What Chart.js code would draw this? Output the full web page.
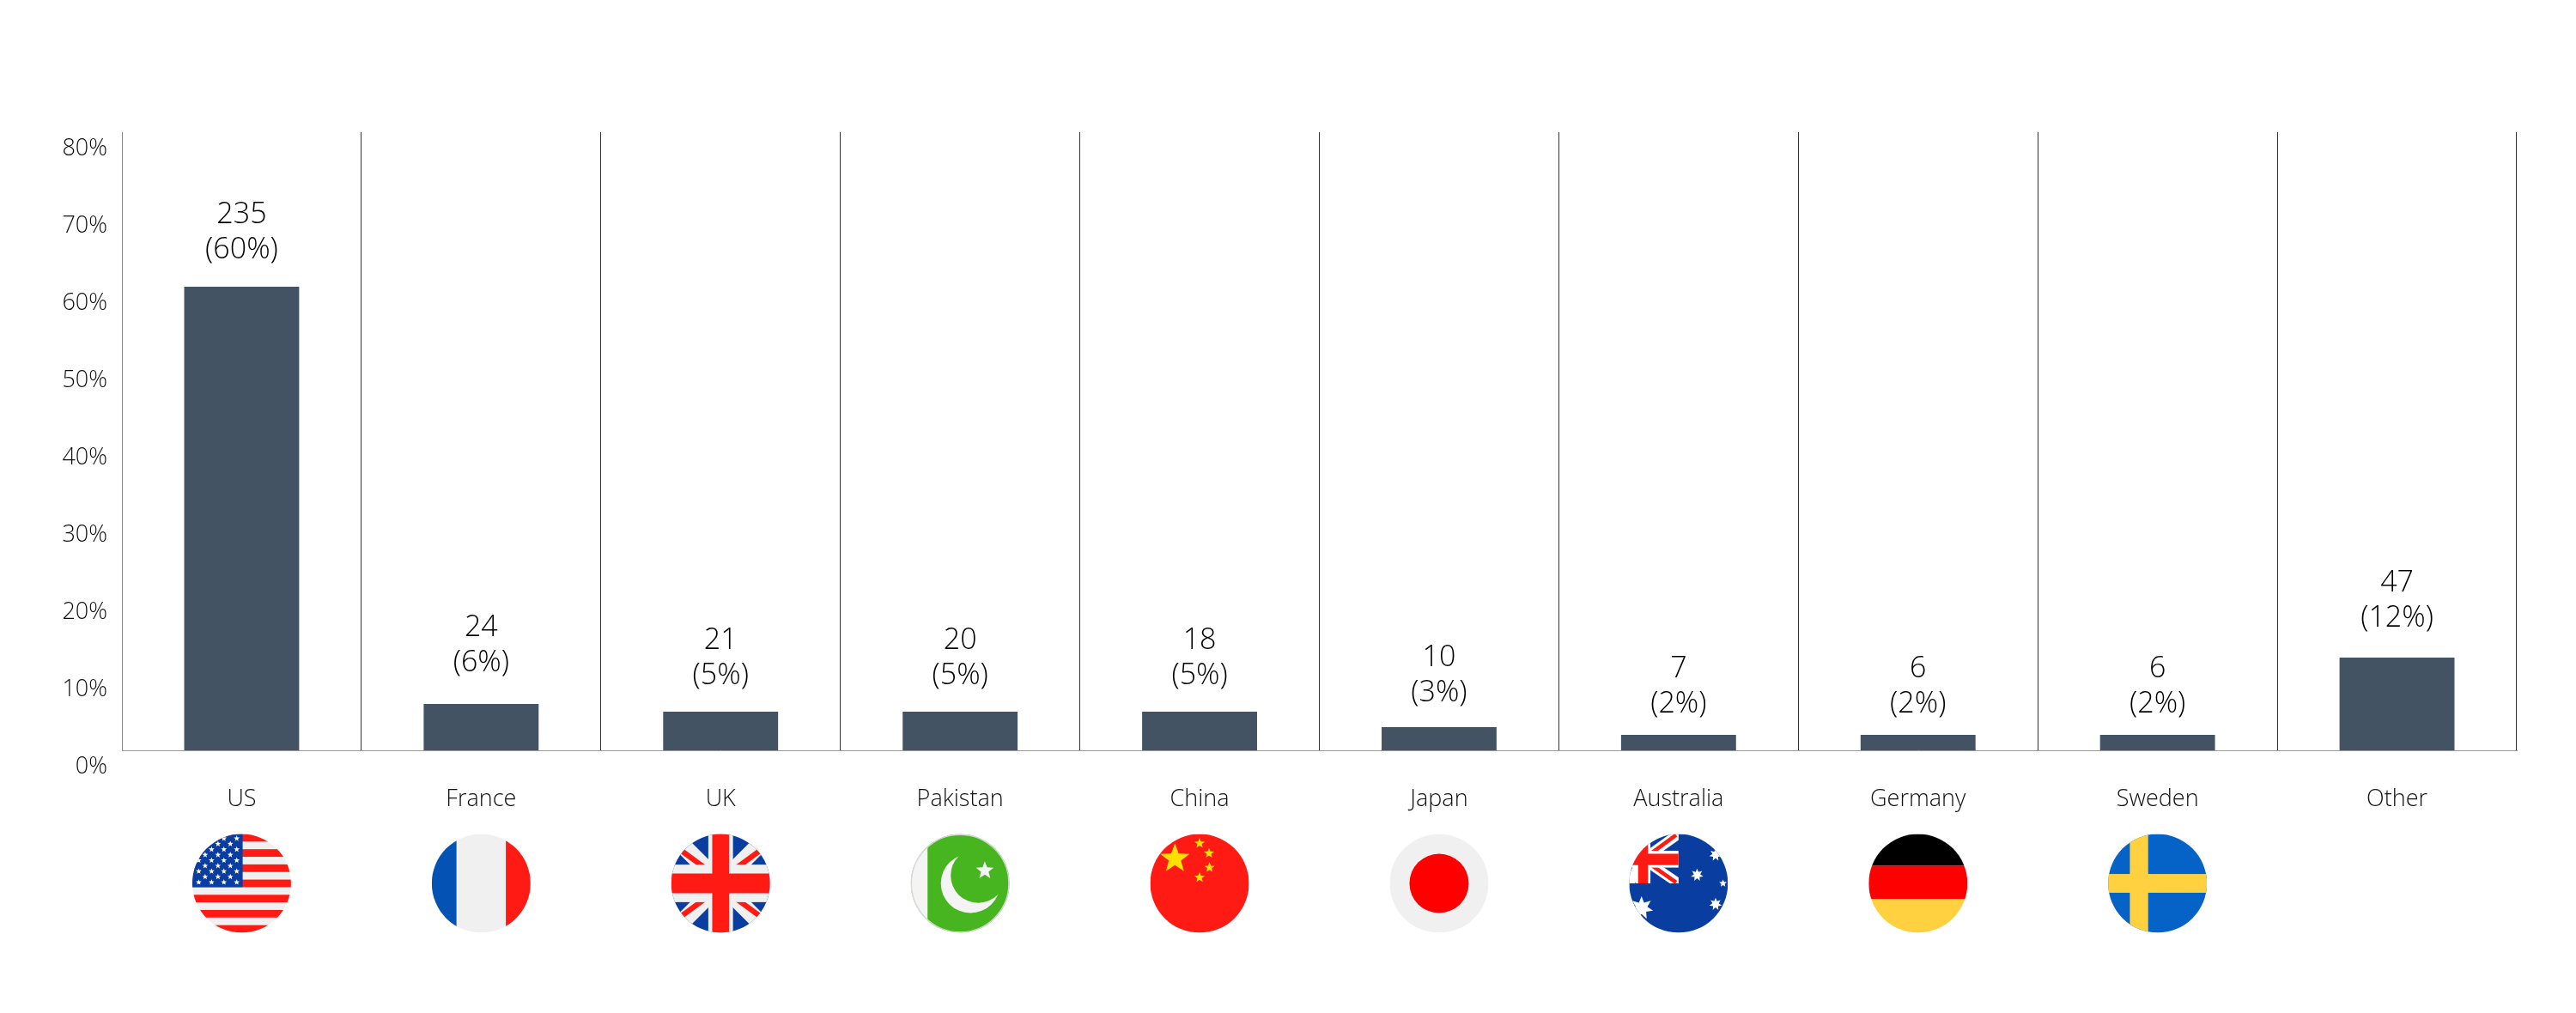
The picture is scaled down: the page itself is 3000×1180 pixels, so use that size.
<!DOCTYPE html>
<html>
<head>
<meta charset="utf-8">
<title>Chart</title>
<script src="https://cdn.jsdelivr.net/npm/chart.js@4"></script>
<style>
  html, body { margin: 0; padding: 0; background: #fff; }
  canvas { display: block; }
</style>
</head>
<body>
<canvas id="chart" width="3000" height="1180"></canvas>
<script>
// ── Data ─────────────────────────────────────────────────────────
const categories = ['US', 'France', 'UK', 'Pakistan', 'China', 'Japan', 'Australia', 'Germany', 'Sweden', 'Other'];
const shares     = [60, 6, 5, 5, 5, 3, 2, 2, 2, 12];
const counts     = [235, 24, 21, 20, 18, 10, 7, 6, 6, 47];
const flags      = ['us', 'fr', 'uk', 'pk', 'cn', 'jp', 'au', 'de', 'se', null];
const yTicks     = [0, 10, 20, 30, 40, 50, 60, 70, 80];

// gap between bar top and the label's last baseline, varies in the source
const labelGaps  = [33, 38, 32, 32, 32, 30, 26, 26, 26, 36];

const BAR_COLOR = '#435364';
const FONT = '"Open Sans", sans-serif';
const RED = '#ff1a14', WHITE = '#f0f0f0', NAVY = '#0a3da0', GOLD = '#ffd040';

// ── Flag helpers (unit circle coords) ────────────────────────────
function star(c, x, y, r, n = 5, inner = 0.42) {
  c.beginPath();
  for (let i = 0; i < n * 2; i++) {
    const a = -Math.PI / 2 + i * Math.PI / n;
    const rr = i % 2 ? r * inner : r;
    c.lineTo(x + rr * Math.cos(a), y + rr * Math.sin(a));
  }
  c.closePath();
  c.fill();
}

function rect(c, color, x, y, w, h) {
  c.fillStyle = color;
  c.fillRect(x, y, w, h);
}

function stroke(c, color, width, x1, y1, x2, y2) {
  c.strokeStyle = color;
  c.lineWidth = width;
  c.beginPath();
  c.moveTo(x1, y1);
  c.lineTo(x2, y2);
  c.stroke();
}

const drawFlag = {
  us(c) {
    rect(c, WHITE, -1, -1, 2, 2);
    for (let i = 0; i < 13; i += 2) rect(c, RED, -1, -1 + i * 2 / 13, 2, 2 / 13);
    rect(c, '#0a3da0', -1, -1, 1.02, 14 / 13);
    c.fillStyle = '#fff';
    for (let row = 0; row < 9; row++) {
      const y = -0.91 + row * 0.111;
      const xs = row % 2 ? [-0.74, -0.48, -0.23] : [-0.87, -0.61, -0.36, -0.1];
      xs.forEach(x => star(c, x, y, 0.062));
    }
  },
  fr(c) {
    rect(c, WHITE, -1, -1, 2, 2);
    rect(c, '#0552b5', -1, -1, 0.5, 2);
    rect(c, RED, 0.5, -1, 0.5, 2);
  },
  uk(c) {
    rect(c, NAVY, -1, -1, 2, 2);
    stroke(c, WHITE, 0.34, -1, -1, 1, 1);
    stroke(c, WHITE, 0.34, -1, 1, 1, -1);
    stroke(c, RED, 0.11, -0.9, -0.74, -0.3, -0.3);
    stroke(c, RED, 0.11, 0.9, -0.74, 0.3, -0.3);
    stroke(c, RED, 0.11, -0.9, 0.74, -0.3, 0.3);
    stroke(c, RED, 0.11, 0.9, 0.74, 0.3, 0.3);
    rect(c, WHITE, -0.25, -1, 0.5, 2);
    rect(c, WHITE, -1, -0.38, 2, 0.76);
    rect(c, RED, -0.17, -1, 0.34, 2);
    rect(c, RED, -1, -0.2, 2, 0.4);
  },
  pk(c) {
    rect(c, '#46b51f', -1, -1, 2, 2);
    rect(c, '#f4f4f4', -1, -1, 0.34, 2);
    c.fillStyle = '#f4f4f4';
    c.beginPath(); c.arc(0.21, 0, 0.6, 0, Math.PI * 2); c.fill();
    c.fillStyle = '#46b51f';
    c.beginPath(); c.arc(0.365, -0.16, 0.556, 0, Math.PI * 2); c.fill();
    c.fillStyle = '#f4f4f4';
    star(c, 0.5, -0.26, 0.19);
    c.strokeStyle = '#d8d8d8';
    c.lineWidth = 0.03;
    c.beginPath(); c.arc(0, 0, 0.99, 0, Math.PI * 2); c.stroke();
  },
  cn(c) {
    rect(c, RED, -1, -1, 2, 2);
    c.fillStyle = '#ffe000';
    star(c, -0.5, -0.5, 0.31);
    star(c, 0, -0.81, 0.11);
    star(c, 0.19, -0.61, 0.11);
    star(c, 0.2, -0.32, 0.11);
    star(c, 0, -0.12, 0.11);
  },
  jp(c) {
    rect(c, WHITE, -1, -1, 2, 2);
    c.fillStyle = '#ff0000';
    c.beginPath(); c.arc(0, 0, 0.6, 0, Math.PI * 2); c.fill();
  },
  au(c) {
    rect(c, NAVY, -1, -1, 2, 2);
    c.save();
    c.beginPath(); c.rect(-1, -1, 1, 1); c.clip();
    stroke(c, '#fff', 0.2, -0.72, -0.49, 0, -1);
    stroke(c, '#fff', 0.2, -0.72, -0.49, 0, 0);
    stroke(c, '#fff', 0.2, -0.72, -0.49, -1, -1);
    stroke(c, '#fff', 0.2, -0.72, -0.49, -1, 0);
    stroke(c, RED, 0.08, -0.72, -0.49, -0.05, -0.98);
    stroke(c, RED, 0.08, -0.72, -0.49, -0.05, -0.02);
    rect(c, '#fff', -0.87, -1, 0.3, 1);
    rect(c, '#fff', -1, -0.66, 1, 0.34);
    rect(c, RED, -0.82, -1, 0.2, 1);
    rect(c, RED, -1, -0.6, 1, 0.23);
    c.restore();
    c.fillStyle = '#fff';
    star(c, 0.375, -0.17, 0.13, 7, 0.5);
    star(c, 0.75, -0.58, 0.13, 7, 0.5);
    star(c, 0.9, 0, 0.08, 5, 0.45);
    star(c, 0.75, 0.42, 0.13, 7, 0.5);
    star(c, -0.75, 0.5, 0.24, 7, 0.5);
  },
  de(c) {
    rect(c, '#000', -1, -1, 2, 0.645);
    rect(c, '#ff0000', -1, -0.355, 2, 0.675);
    rect(c, GOLD, -1, 0.32, 2, 0.68);
  },
  se(c) {
    rect(c, '#0563c8', -1, -1, 2, 2);
    rect(c, GOLD, -0.56, -1, 0.37, 2);
    rect(c, GOLD, -1, -0.19, 2, 0.38);
  }
};

// ── Plugins ──────────────────────────────────────────────────────
const barLabels = {
  id: 'barLabels',
  afterDatasetsDraw(chart) {
    const c = chart.ctx;
    c.save();
    c.font = `300 34px ${FONT}`;
    c.fillStyle = '#000';
    c.textAlign = 'center';
    c.textBaseline = 'alphabetic';
    chart.getDatasetMeta(0).data.forEach((bar, i) => {
      const base = bar.y - labelGaps[i];
      c.fillText('(' + shares[i] + '%)', bar.x, base);
      c.fillText(String(counts[i]), bar.x, base - 41);
    });
    c.restore();
  }
};

const flagRow = {
  id: 'flagRow',
  afterDraw(chart) {
    const c = chart.ctx;
    const R = 57.5, cy = 1029;
    flags.forEach((name, i) => {
      if (!name) return;
      c.save();
      c.translate(chart.scales.x.getPixelForTick(i), cy);
      c.scale(R, R);
      c.beginPath();
      c.arc(0, 0, 1, 0, Math.PI * 2);
      c.clip();
      drawFlag[name](c);
      c.restore();
    });
  }
};

// ── Chart ────────────────────────────────────────────────────────
new Chart(document.getElementById('chart'), {
  type: 'bar',
  data: {
    labels: categories,
    datasets: [{
      data: shares,
      backgroundColor: BAR_COLOR,
      borderWidth: 0,
      barPercentage: 0.48,
      categoryPercentage: 1
    }]
  },
  plugins: [barLabels, flagRow],
  options: {
    responsive: false,
    animation: false,
    layout: { padding: { top: 154, right: 69, bottom: 206, left: 0 } },
    plugins: { legend: { display: false }, tooltip: { enabled: false } },
    scales: {
      x: {
        afterFit: s => { s.height = 100; },
        border: { color: '#999', width: 1 },
        grid: {
          offset: true,
          drawTicks: false,
          lineWidth: 1,
          color: ctx => (ctx.index === 0 ? '#888' : '#333')
        },
        ticks: {
          padding: 41,
          color: '#111',
          maxRotation: 0,
          font: { family: FONT, size: 27, weight: '300' }
        }
      },
      y: {
        min: 0,
        max: 80,
        afterFit: s => { s.width = 142; },
        afterBuildTicks: s => { s.ticks = yTicks.map(value => ({ value })); },
        border: { display: false },
        grid: { display: false, drawTicks: false },
        ticks: {
          padding: 17,
          labelOffset: 19,
          color: '#111',
          callback: v => v + '%',
          font: { family: FONT, size: 27, weight: '300' }
        }
      }
    }
  }
});
</script>
</body>
</html>
